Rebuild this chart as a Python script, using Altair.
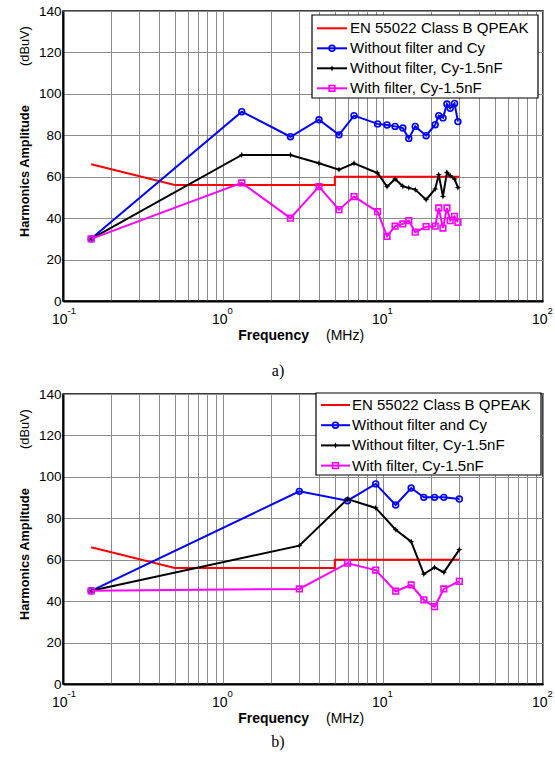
import altair as alt
import pandas as pd

# ---------------- measured conducted-emission spectra ----------------
# panel a)
freq_a = [0.15, 1.31, 2.64, 3.98, 5.31, 6.59, 9.25, 10.6, 11.9, 13.3,
          14.5, 15.9, 18.6, 21.2, 22.3, 23.7, 25.1, 26.3, 28.0, 29.4]
no_filter_a = [30, 91.4, 79.3, 87.5, 80.2, 89.5, 85.5, 85.0, 84.3, 83.5,
               78.5, 84.3, 79.8, 85.1, 89.5, 88.4, 95.1, 93.0, 95.4, 86.6]
cy_a = [30, 70.5, 70.5, 66.5, 63.4, 66.5, 61.8, 55.2, 58.9, 55.4,
        54.6, 53.8, 48.9, 54.1, 61.0, 50.5, 62.1, 60.5, 58.9, 54.7]
filter_cy_a = [30, 57.0, 40.0, 55.2, 44.1, 50.4, 43.1, 31.2, 36.1, 37.2,
               38.8, 33.2, 35.9, 36.1, 44.9, 35.2, 44.9, 38.8, 40.9, 38.0]

# panel b)
freq_b = [0.15, 3, 6, 9, 12, 15, 18, 21, 24, 30]
no_filter_b = [45, 93.0, 88.5, 96.6, 86.4, 94.6, 90.1, 90.1, 90.1, 89.3]
cy_b = [45, 66.8, 89.3, 85.0, 74.5, 68.7, 53.1, 56.3, 53.9, 64.9]
filter_cy_b = [45, 45.9, 58.3, 55.0, 44.8, 47.8, 40.6, 37.3, 45.9, 49.6]

# EN 55022 class B quasi-peak limit
limit_freq = [0.15, 0.5, 5, 5, 30]
limit_level = [66, 56, 56, 60, 60]

series_names = ["EN 55022 Class B QPEAK", "Without filter and Cy",
                "Without filter, Cy-1.5nF", "With filter, Cy-1.5nF"]

# decade tick labels of the frequency axis (10^exp)
decade_freq = [0.1, 1, 10, 100]
decade_exp = ["-1", "0", "1", "2"]

y_ticks = [0, 20, 40, 60, 80, 100, 120, 140]
x_grid = [k * 10.0 ** e for e in (-1, 0, 1) for k in range(1, 10)] + [100]

# ---------------- styling ----------------
W, H = 480, 290
FONT = "Liberation Sans"
STAR = "M0,-1L0.28,-0.28L1,0L0.28,0.28L0,1L-0.28,0.28L-1,0L-0.28,-0.28Z"
styles = [
    dict(color="#ff0000", shape=None, filled=False, size=0),
    dict(color="#0000ff", shape="circle", filled=False, size=34),
    dict(color="#000000", shape=STAR, filled=True, size=40),
    dict(color="#ff00ff", shape="square", filled=False, size=32),
]

x_scale = alt.Scale(type="log", domain=[0.1, 100], nice=False)
y_scale = alt.Scale(domain=[0, 140], nice=False)
x_axis = alt.Axis(values=x_grid, labels=False, ticks=False, title=None,
                  grid=True, domain=True)
y_axis = alt.Axis(values=y_ticks, ticks=False, title=None, grid=True,
                  labelFontSize=13.5, labelPadding=2, labelFont=FONT,
                  labelColor="black")
X = alt.X("freq:Q", scale=x_scale, axis=x_axis)
Y = alt.Y("level:Q", scale=y_scale, axis=y_axis)


def series_layers(freq, values, st):
    df = pd.DataFrame({"freq": freq, "level": values,
                       "idx": list(range(len(freq)))})
    base = alt.Chart(df)
    out = [base.mark_line(color=st["color"], strokeWidth=2).encode(
        x=X, y=Y, order="idx:Q")]
    if st["shape"]:
        out.append(base.mark_point(
            shape=st["shape"], filled=st["filled"], color=st["color"],
            size=st["size"], strokeWidth=1.6, opacity=1).encode(x=X, y=Y))
    return out


def text_layer(label, x, y, **kw):
    df = pd.DataFrame({"label": [label]})
    return alt.Chart(df).mark_text(font=FONT, color="black", **kw).encode(
        x=alt.value(x), y=alt.value(y), text="label:N")


def legend_layers(box, row0, step, line_x, marker_x, text_x):
    x0, x1, y0, y1 = box
    frame = alt.Chart(pd.DataFrame({"k": [0]})).mark_rect(
        fill="white", stroke="black", strokeWidth=1.2).encode(
        x=alt.value(x0), x2=alt.value(x1), y=alt.value(y0), y2=alt.value(y1))
    out = [frame]
    for i, (name, st) in enumerate(zip(series_names, styles)):
        ry = row0 + step * i
        one = alt.Chart(pd.DataFrame({"label": [name]}))
        out.append(one.mark_rule(color=st["color"], strokeWidth=2).encode(
            x=alt.value(line_x[0]), x2=alt.value(line_x[1]), y=alt.value(ry)))
        if st["shape"]:
            out.append(one.mark_point(
                shape=st["shape"], filled=st["filled"], color=st["color"],
                size=st["size"], strokeWidth=1.6, opacity=1).encode(
                x=alt.value(marker_x), y=alt.value(ry)))
        out.append(one.mark_text(font=FONT, fontSize=15, align="left",
                                 baseline="middle", color="black").encode(
            x=alt.value(text_x), y=alt.value(ry), text="label:N"))
    return out


def panel(freq, no_filter, cy, filter_cy, legend, caption, caption_y):
    layers = []
    layers += series_layers(limit_freq, limit_level, styles[0])
    layers += series_layers(freq, no_filter, styles[1])
    layers += series_layers(freq, cy, styles[2])
    layers += series_layers(freq, filter_cy, styles[3])
    layers += legend_layers(**legend)

    # decade labels 10^n under the frequency axis
    dec = pd.DataFrame({"freq": decade_freq, "base": ["10"] * 4,
                        "exp": decade_exp})
    dchart = alt.Chart(dec)
    layers.append(dchart.mark_text(font=FONT, fontSize=14, align="right",
                                   baseline="alphabetic", dx=4.5,
                                   color="black").encode(
        x=X, y=alt.value(H + 23), text="base:N"))
    layers.append(dchart.mark_text(font=FONT, fontSize=9.5, align="left",
                                   baseline="alphabetic", dx=4.5,
                                   color="black").encode(
        x=X, y=alt.value(H + 13), text="exp:N"))

    # axis titles (bold quantity, plain unit)
    layers.append(text_layer("Frequency", 246, H + 35, fontSize=14,
                             fontWeight="bold", align="right",
                             baseline="middle"))
    layers.append(text_layer("(MHz)", 263, H + 35, fontSize=14,
                             align="left", baseline="middle"))
    layers.append(text_layer("Harmonics Amplitude", -38, 226, fontSize=12.8,
                             fontWeight="bold", angle=270, align="left",
                             baseline="middle"))
    layers.append(text_layer("(dBuV)", -38, 55, fontSize=12.8, angle=270,
                             align="left", baseline="middle"))

    # sub-figure caption
    cap = pd.DataFrame({"label": [caption]})
    layers.append(alt.Chart(cap).mark_text(
        font="Liberation Serif", fontSize=16, align="center",
        baseline="middle", color="black").encode(
        x=alt.value(215), y=alt.value(H + caption_y), text="label:N"))

    return alt.layer(*layers).properties(width=W, height=H)


top = panel(freq_a, no_filter_a, cy_a, filter_cy_a,
            dict(box=(249, 475, 4, 87), row0=17.3, step=20,
                 line_x=(254, 284), marker_x=269, text_x=287), "a)", 70)
bottom = panel(freq_b, no_filter_b, cy_b, filter_cy_b,
               dict(box=(253, 478, -1, 81), row0=11, step=20.2,
                    line_x=(258, 287), marker_x=272.5, text_x=289), "b)", 58)

chart = alt.vconcat(top, bottom, spacing=93, bounds="flush").properties(
    padding={"left": 18, "top": 3, "right": 0, "bottom": 5},
    background="white",
).configure_view(
    stroke="black", strokeWidth=1.5
).configure_axis(
    gridColor="#8c8c8c", gridWidth=1, gridOpacity=1,
    domainColor="black", domainWidth=2,
)

chart.save("out.html", embed_options={"renderer": "svg", "actions": False})
